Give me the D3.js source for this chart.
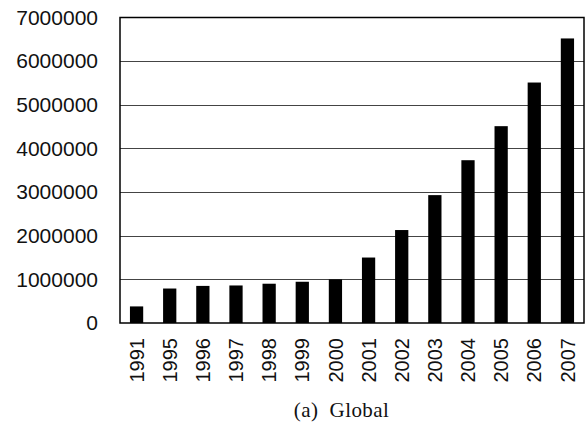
<!DOCTYPE html>
<html>
<head>
<meta charset="utf-8">
<script src="https://cdn.jsdelivr.net/npm/d3@7"></script>
<style>
  html, body { margin: 0; padding: 0; background: #fff; }
</style>
</head>
<body>
<svg id="chart" width="588" height="423"></svg>
<script>
const years = ["1991","1995","1996","1997","1998","1999","2000","2001","2002","2003","2004","2005","2006","2007"];
const values = [380000, 790000, 850000, 860000, 900000, 945000, 1000000, 1500000, 2130000, 2930000, 3730000, 4510000, 5510000, 6520000];
const yTicks = [0, 1000000, 2000000, 3000000, 4000000, 5000000, 6000000, 7000000];
const caption = "(a)  Global";

(function () {
const svg = d3.select("#chart");
const mLeft = 120, mRight = 584, mTop = 17.5, mBottom = 323;

const x = d3.scaleBand().domain(years).range([mLeft, mRight]).paddingInner(0.6).paddingOuter(0.3);
const y = d3.scaleLinear().domain([0, 7000000]).range([mBottom, mTop]);

// gridlines
svg.append("g").selectAll("line").data(yTicks.slice(1, -1)).join("line")
  .attr("x1", mLeft).attr("x2", mRight)
  .attr("y1", d => Math.round(y(d)) + 0.5).attr("y2", d => Math.round(y(d)) + 0.5)
  .attr("stroke", "#444").attr("stroke-width", 1);

// bars
svg.append("g").selectAll("rect").data(years).join("rect")
  .attr("x", d => x(d))
  .attr("width", x.bandwidth())
  .attr("y", (d, i) => y(values[i]))
  .attr("height", (d, i) => mBottom - y(values[i]))
  .attr("fill", "#000");

// frame
svg.append("rect")
  .attr("x", mLeft).attr("y", mTop)
  .attr("width", mRight - mLeft).attr("height", mBottom - mTop)
  .attr("fill", "none").attr("stroke", "#000").attr("stroke-width", 1.5);

// y axis
const yAxis = d3.axisLeft(y).tickValues(yTicks).tickFormat(d3.format("d")).tickSize(0).tickPadding(22);
const gy = svg.append("g").attr("transform", `translate(${mLeft},0)`).call(yAxis);
gy.select(".domain").remove();
gy.selectAll("text")
  .attr("font-family", "Liberation Sans, Arial, sans-serif")
  .attr("font-size", 21)
  .attr("fill", "#111");

// x axis
const xAxis = d3.axisBottom(x).tickSize(0).tickPadding(0);
const gx = svg.append("g").attr("transform", `translate(0,${mBottom})`).call(xAxis);
gx.select(".domain").remove();
gx.selectAll("text")
  .attr("font-family", "Liberation Sans, Arial, sans-serif")
  .attr("font-size", 20)
  .attr("fill", "#111")
  .attr("transform", "rotate(-90)")
  .attr("text-anchor", "end")
  .attr("x", -15)
  .attr("y", 0)
  .attr("dy", "0.36em");

// caption
svg.append("text")
  .attr("x", 341.5).attr("y", 416.5)
  .attr("text-anchor", "middle")
  .attr("font-family", "Liberation Serif, Times New Roman, serif")
  .attr("font-size", 21)
  .attr("letter-spacing", 0.4)
  .attr("fill", "#111")
  .attr("xml:space", "preserve")
  .style("white-space", "pre")
  .text(caption);
})();
</script>
</body>
</html>
